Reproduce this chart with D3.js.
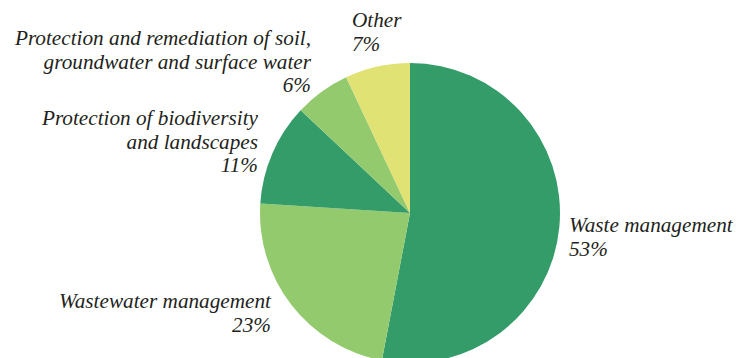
<!DOCTYPE html>
<html><head><meta charset="utf-8">
<script src="https://cdn.jsdelivr.net/npm/d3@7"></script>
</head><body style="margin:0">
<svg id="chart" width="736" height="358"></svg>
<script>
const categories = ["Waste management","Wastewater management","Protection of biodiversity and landscapes","Protection and remediation of soil, groundwater and surface water","Other"];
const values = [53, 23, 11, 6, 7];
const colors = ["#349c69","#94ca6e","#349c69","#94ca6e","#e0e274"];
const labelLines = [["Waste management","53%"],["Wastewater management","23%"],["Protection of biodiversity","and landscapes","11%"],["Protection and remediation of soil,","groundwater and surface water","6%"],["Other","7%"]];
const labelPos = [[569,232,"start"],[271,308,"end"],[258,125,"end"],[311,45,"end"],[352,27,"start"]];

const svg = d3.select("#chart");
const cx = 410, cy = 213, r = 150;
const pie = d3.pie().sort(null).value(d => d)(values);
const arc = d3.arc().innerRadius(0).outerRadius(r);
const g = svg.append("g").attr("transform", `translate(${cx},${cy})`);
g.selectAll("path").data(pie).join("path")
  .attr("d", arc).attr("fill", (d,i) => colors[i]);

const fam = "Liberation Serif";
const lh = 23.5;
const texts = [];
labelLines.forEach((lines, i) => {
  const [x, y, anchor] = labelPos[i];
  lines.forEach((l, j) => texts.push(svg.append("text")
    .attr("x", x).attr("y", y + j * lh)
    .attr("text-anchor", anchor)
    .attr("font-family", fam)
    .attr("font-style", "italic")
    .attr("font-size", 19)
    .attr("fill", "#231f20")
    .text(l)));
});
// fit font size so "Wastewater management" spans ~212px as in the reference
const w = texts[2].node().getComputedTextLength();
let fs = 19 * 212 / w;
fs = Math.max(16, Math.min(22, fs));
texts.forEach(t => t.attr("font-size", fs));
</script>
</body></html>
